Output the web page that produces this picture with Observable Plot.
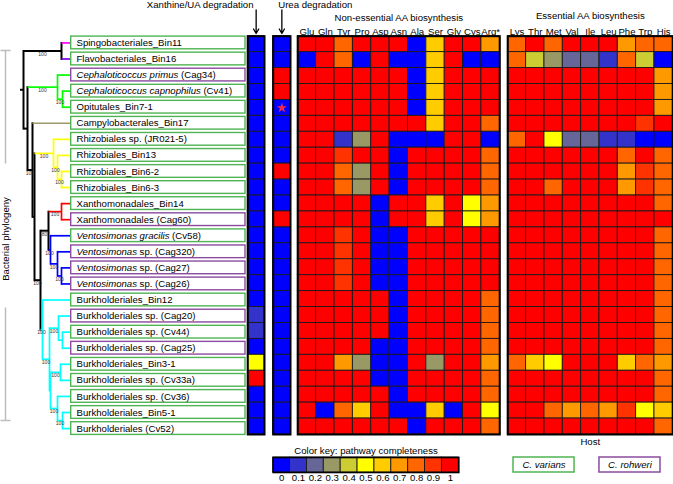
<!DOCTYPE html>
<html><head><meta charset="utf-8">
<script src="https://cdn.jsdelivr.net/npm/d3@7"></script>
<script src="https://cdn.jsdelivr.net/npm/@observablehq/plot@0.6"></script>
<style>
body{margin:0;background:#fff;}
#chart{position:relative;width:673px;height:484px;overflow:hidden;background:#fff;}
#chart svg{position:absolute;left:0;top:0;background:transparent !important;overflow:visible;}
</style></head><body><div id="chart"></div>
<script>
// ---------------- DATA ----------------
const taxa = ["Spingobacteriales_Bin11","Flavobacteriales_Bin16","Cephaloticoccus primus (Cag34)","Cephaloticoccus capnophilus (Cv41)","Opitutales_Bin7-1","Campylobacterales_Bin17","Rhizobiales sp. (JR021-5)","Rhizobiales_Bin13","Rhizobiales_Bin6-2","Rhizobiales_Bin6-3","Xanthomonadales_Bin14","Xanthomonadales (Cag60)","Ventosimonas gracilis (Cv58)","Ventosimonas sp. (Cag320)","Ventosimonas sp. (Cag27)","Ventosimonas sp. (Cag26)","Burkholderiales_Bin12","Burkholderiales sp. (Cag20)","Burkholderiales sp. (Cv44)","Burkholderiales sp. (Cag25)","Burkholderiales_Bin3-1","Burkholderiales sp. (Cv33a)","Burkholderiales sp. (Cv36)","Burkholderiales_Bin5-1","Burkholderiales (Cv52)"];
const italicPart = ["","","Cephaloticoccus primus","Cephaloticoccus capnophilus","","","","","","","","","Ventosimonas gracilis","Ventosimonas","Ventosimonas","Ventosimonas","","","","","","","","",""];
const plainPart = ["Spingobacteriales_Bin11","Flavobacteriales_Bin16","(Cag34)","(Cv41)","Opitutales_Bin7-1","Campylobacterales_Bin17","Rhizobiales sp. (JR021-5)","Rhizobiales_Bin13","Rhizobiales_Bin6-2","Rhizobiales_Bin6-3","Xanthomonadales_Bin14","Xanthomonadales (Cag60)","(Cv58)","sp. (Cag320)","sp. (Cag27)","sp. (Cag26)","Burkholderiales_Bin12","Burkholderiales sp. (Cag20)","Burkholderiales sp. (Cv44)","Burkholderiales sp. (Cag25)","Burkholderiales_Bin3-1","Burkholderiales sp. (Cv33a)","Burkholderiales sp. (Cv36)","Burkholderiales_Bin5-1","Burkholderiales (Cv52)"];
const hostOf = ["C. varians","C. varians","C. rohweri","C. varians","C. varians","C. varians","C. varians","C. varians","C. varians","C. varians","C. varians","C. rohweri","C. varians","C. rohweri","C. rohweri","C. rohweri","C. varians","C. rohweri","C. varians","C. rohweri","C. varians","C. varians","C. varians","C. varians","C. varians"];
const hosts = ["C. varians","C. rohweri"];
const hostColors = ["#4fb453","#8b4b9f"];

const levels = [0,0.1,0.2,0.3,0.4,0.5,0.6,0.7,0.8,0.9,1];
const palette = ["#0000ff","#3333cc","#666699","#999966","#cccc33","#ffff00","#ffcc00","#ff9900","#ff6600","#ff3300","#ff0000"];

const xanthine = [0,0,0,0,0,0,0,0,0,0,0,0,0,0,0,0,0,0.1,0.1,0,0.5,1,0,0,0];
const urea =     [0,0,1,1,0,0,0,0,1,0,0,1,0,0,0,0,0,0,0,0,0,0,0,0,0];
const ureaStarRow = 4;

const nonEssCols = ["Glu","Gln","Tyr","Pro","Asp","Asn","Ala","Ser","Gly","Cys","Arg*"];
const nonEss = [
 [1,1,0.8,1,1,1,0,0.6,1,1,0.7],
 [0,1,0.8,0,1,0,0,0.6,1,0,0],
 [1,1,1,1,1,1,0,0.6,1,1,1],
 [1,1,1,1,1,1,0,0.6,1,1,1],
 [1,1,1,1,1,1,0,0.6,1,1,1],
 [1,1,1,1,1,1,1,0.6,1,1,0.8],
 [1,1,0.1,0.3,1,0,0,0,1,1,0],
 [1,1,0.9,1,1,0,1,1,1,1,0.8],
 [1,1,0.8,0.3,1,0,1,1,1,1,0.8],
 [1,1,0.8,0.3,1,0,1,1,1,1,0.8],
 [1,1,1,1,0,1,1,0.6,1,0.5,0.7],
 [1,1,1,1,0,1,1,0.6,1,0.5,0.7],
 [1,1,0.9,1,0,0,1,1,1,1,1],
 [1,1,0.9,1,0,0,1,1,1,1,1],
 [1,1,0.9,1,0,0,1,1,1,1,1],
 [1,1,0.9,1,0,0,1,1,1,1,1],
 [1,1,1,1,1,0,1,1,1,1,0.8],
 [1,1,1,1,1,0,1,1,1,1,0.8],
 [1,1,1,1,1,0,1,1,1,1,0.8],
 [1,1,1,1,0,0,1,1,1,1,0.8],
 [1,1,0.7,0.3,0,0,1,0.3,1,1,0.7],
 [1,1,1,1,0,0,1,1,1,1,0.8],
 [1,1,1,1,1,0,1,1,1,1,0.8],
 [1,0,0.8,0.6,1,0,0,0.6,0,1,0.5],
 [1,1,1,1,1,1,0,1,1,1,0.8]
];
const essCols = ["Lys","Thr","Met","Val","Ile","Leu","Phe","Trp","His"];
const ess = [
 [0.8,1,0.8,1,1,1,0.7,0.8,0.8],
 [0.8,0.4,0.3,0.2,0.2,0.1,0.8,0.4,0],
 [1,1,1,1,1,1,1,1,0.7],
 [1,1,1,1,1,1,1,1,0.7],
 [1,1,1,1,1,1,1,1,0.7],
 [1,1,1,1,1,1,1,0.9,1],
 [0.8,1,0.5,0.2,0.2,0.1,0.1,0,0],
 [1,1,1,1,1,1,0.8,1,0.8],
 [1,1,1,1,1,1,0.7,0.9,0.8],
 [1,1,0.8,1,1,1,0.7,0.9,0.8],
 [1,1,1,1,1,1,1,1,0.8],
 [1,1,1,1,1,1,1,1,1],
 [1,1,1,1,1,1,1,1,0.8],
 [1,1,1,1,1,1,1,1,0.8],
 [1,1,1,1,1,1,1,1,0.8],
 [1,1,1,1,1,1,1,1,0.8],
 [1,1,1,1,1,1,1,1,0.8],
 [1,1,1,1,1,1,1,1,0.8],
 [1,1,1,1,1,1,1,1,0.8],
 [1,1,1,1,1,1,1,1,0.8],
 [0.8,0.6,0.5,1,1,1,0.6,0.8,0.7],
 [1,1,1,1,1,1,1,1,0.8],
 [1,1,1,1,1,1,1,1,0.8],
 [1,1,0.8,0.7,0.8,0.7,0.9,0.5,0.6],
 [1,1,1,1,1,1,1,1,0.8]
];

// phylogeny: internal nodes [id, parent, depth, colour, support]
const treeNodes = [
 ["root",null,23,"#000000",""],
 ["A","root",61,"#000000","100"],
 ["B","root",27,"#000000",""],
 ["Ceph","B",57,"#00ff00","100"],
 ["Ceph2","Ceph",62,"#00ff00","100"],
 ["D","B",32,"#000000","100"],
 ["E","D",34,"#000000",""],
 ["Rhizo","E",53,"#ffff00","100"],
 ["Rhizo2","Rhizo",57,"#ffff00","100"],
 ["Rhizo3","Rhizo2",61,"#ffff00","100"],
 ["F","E",40,"#000000","100"],
 ["G","F",48,"#000000","80"],
 ["Xan","G",61,"#ff0000","100"],
 ["Vento","G",50,"#0000ff","100"],
 ["Vento2","Vento",57,"#0000ff","100"],
 ["Vento3","Vento2",61,"#0000ff","100"],
 ["Burk","F",42,"#00ffff","100"],
 ["B2","Burk",49,"#00ffff","100"],
 ["B3","B2",58,"#00ffff","100"],
 ["B5","B3",62,"#00ffff",""],
 ["B4","B2",50,"#00ffff",""],
 ["B6","B4",60,"#00ffff","100"],
 ["B7","B4",57,"#00ffff","100"],
 ["B8","B7",62,"#00ffff","100"]
];
const leafParent = ["A","A","Ceph","Ceph2","Ceph2","D","Rhizo","Rhizo2","Rhizo3","Rhizo3","Xan","Xan","Vento","Vento2","Vento3","Vento3","Burk","B3","B5","B5","B6","B6","B7","B8","B8"];
const leafColor = ["#ff00ff","#7a00e6","#00ff00","#00ff00","#00ff00","#9c9c6a","#ffff00","#ffff00","#ffff00","#ffff00","#ff0000","#ff0000","#0000ff","#0000ff","#0000ff","#0000ff","#00ffff","#00ffff","#00ffff","#00ffff","#00ffff","#00ffff","#00ffff","#00ffff","#00ffff"];
const rootStubDepth = 19.5;

// ---------------- LAYOUT ----------------
const W = 673, H = 484;
const FONT = '"Liberation Sans", Arial, Helvetica, sans-serif';
const FS = 9.6;
const heatTop = 35.7, heatBottom = 434;
const panels = {
  xan: [247.3, 264], urea: [272.7, 290], non: [297.3, 499.3], ess: [507.3, 672.3],
  key: [272.7, 458.3, 457, 472], host: [513, 660, 457, 472]
};
const labelBox = {x1: 70.7, x2: 245, textX: 76, half: 0.395, yRange: [34.4, 436.1]};
const leafDepth = 70.7;

const chart = document.getElementById("chart");
const style = {fontFamily: FONT, fontSize: FS + "px", background: "transparent", overflow: "visible"};
const colorScale = {type: "ordinal", domain: levels, range: palette};

function heat(cols, matrix, [l, r], extra = []) {
  const data = [];
  matrix.forEach((row, i) => row.forEach((v, j) => data.push({taxon: taxa[i], col: cols[j], v})));
  return Plot.plot({
    width: W, height: H, style,
    marginLeft: l, marginRight: W - r, marginTop: heatTop, marginBottom: H - heatBottom,
    x: {type: "band", domain: cols, padding: 0, round: false, axis: null},
    y: {type: "band", domain: taxa, padding: 0, round: false, axis: null},
    color: colorScale,
    marks: [
      Plot.cell(data, {x: "col", y: "taxon", fill: "v", stroke: "#1a1a1a", strokeWidth: 0.9}),
      Plot.frame({stroke: "#000", strokeWidth: 2}),
      ...extra
    ]
  });
}
const colLabels = cols => Plot.text(cols, {x: d => d, text: d => d, frameAnchor: "top", dy: -8.3, fontSize: FS});

chart.appendChild(heat(["Xanthine"], xanthine.map(v => [v]), panels.xan));
chart.appendChild(heat(["Urea"], urea.map(v => [v]), panels.urea, [
  Plot.dot([ureaStarRow], {x: () => "Urea", y: i => taxa[i], symbol: "star", r: 3.2, fill: "#f0284a", stroke: "none"})
]));
chart.appendChild(heat(nonEssCols, nonEss, panels.non, [
  colLabels(nonEssCols),
  Plot.text(["Non-essential AA biosynthesis"], {text: d => d, frameAnchor: "top", dy: -22.1, fontSize: FS})
]));
chart.appendChild(heat(essCols, ess, panels.ess, [
  colLabels(essCols),
  Plot.text(["Essential AA biosynthesis"], {text: d => d, frameAnchor: "top", dy: -24.5, fontSize: FS}),
  Plot.text(["Host"], {text: d => d, frameAnchor: "bottom", dy: 10, fontSize: FS})
]));

// Colour key
{
  const [l, r, t, b] = panels.key;
  chart.appendChild(Plot.plot({
    width: W, height: H, style,
    marginLeft: l, marginRight: W - r, marginTop: t, marginBottom: H - b,
    x: {type: "band", domain: levels, padding: 0, round: false, axis: null},
    color: colorScale,
    marks: [
      Plot.cell(levels, {x: d => d, fill: d => d, stroke: "#1a1a1a", strokeWidth: 0.9}),
      Plot.frame({stroke: "#000", strokeWidth: 1.6}),
      Plot.text(levels, {x: d => d, text: d => String(d), frameAnchor: "bottom", dy: 8, fontSize: FS}),
      Plot.text(["Color key: pathway completeness"], {text: d => d, frameAnchor: "top", dy: -10, fontSize: FS})
    ]
  }));
}
// Host legend
{
  const [l, r, t, b] = panels.host;
  chart.appendChild(Plot.plot({
    width: W, height: H, style,
    marginLeft: l, marginRight: W - r, marginTop: t, marginBottom: H - b,
    x: {type: "band", domain: hosts, paddingInner: 0.29, paddingOuter: 0, round: false, axis: null},
    color: {type: "identity"},
    marks: [
      Plot.cell(hosts, {x: d => d, fill: "white", stroke: (d, i) => hostColors[i], strokeWidth: 1.5}),
      Plot.text(hosts, {x: d => d, text: d => d, fontStyle: "italic", fontSize: FS})
    ]
  }));
}

// Tree + labels
{
  const nodes = new Map();
  treeNodes.forEach(([id, parent, depth, color, support]) => nodes.set(id, {id, parent, depth, color, support, children: []}));
  taxa.forEach((t, i) => nodes.set("leaf" + i, {id: "leaf" + i, parent: leafParent[i], depth: leafDepth, color: leafColor[i], support: "", children: [], y: i}));
  for (const n of nodes.values()) if (n.parent) nodes.get(n.parent).children.push(n);
  const setY = n => {
    if (!n.children.length) return n.y;
    const ys = n.children.map(setY);
    n.y0 = Math.min(...ys); n.y1 = Math.max(...ys);
    n.y = (n.y0 + n.y1) / 2;
    return n.y;
  };
  setY(nodes.get("root"));
  const vSegs = [], hSegs = [], boots = [];
  for (const n of nodes.values()) {
    if (n.children.length) vSegs.push({x: n.depth, y1: n.y0, y2: n.y1, color: n.color});
    const pd = n.parent ? nodes.get(n.parent).depth : rootStubDepth;
    hSegs.push({x1: pd, x2: n.depth, y: n.y, color: n.color});
    if (n.support) boots.push({x: (pd + n.depth) / 2, y: n.y + 0.2, text: n.support});
  }
  const lw = d => d.color === "#000000" ? 2 : 1.7;
  const ctx = document.createElement("canvas").getContext("2d");
  ctx.font = `italic ${FS}px ${FONT}`;
  const itW = italicPart.map(s => s ? ctx.measureText(s).width : 0);
  ctx.font = `${FS}px ${FONT}`;
  const sp = ctx.measureText(" ").width;
  const rows = taxa.map((t, i) => ({i, it: italicPart[i], pl: plainPart[i], host: hostOf[i], off: itW[i] ? itW[i] + sp : 0}));
  chart.appendChild(Plot.plot({
    width: W, height: H, style, margin: 0,
    x: {domain: [0, W], range: [0, W], axis: null},
    y: {domain: [-0.5, 24.5], range: labelBox.yRange, axis: null},
    color: {type: "identity"},
    marks: [
      Plot.link(vSegs, {x1: "x", x2: "x", y1: "y1", y2: "y2", stroke: "color", strokeWidth: lw, strokeLinecap: "square"}),
      Plot.link(hSegs, {x1: "x1", x2: "x2", y1: "y", y2: "y", stroke: "color", strokeWidth: lw, strokeLinecap: "butt"}),
      Plot.text(boots, {x: "x", y: "y", text: "text", fontSize: 5, fill: "#333"}),
      Plot.rect(rows, {x1: labelBox.x1, x2: labelBox.x2, y1: d => d.i - labelBox.half, y2: d => d.i + labelBox.half,
        fill: "white", stroke: d => hostColors[hosts.indexOf(d.host)], strokeWidth: 1.4}),
      Plot.text(rows.filter(d => d.it), {x: labelBox.textX, y: "i", text: "it", textAnchor: "start", fontStyle: "italic", fontSize: FS}),
      Plot.text(rows, {x: d => labelBox.textX + d.off, y: "i", text: "pl", textAnchor: "start", fontSize: FS})
    ]
  }));
}

// Annotations (headers, arrows, phylogeny axis)
{
  const xc = p => (p[0] + p[1]) / 2;
  const arrows = [{x: xc(panels.xan), y1: 9.5, y2: 33}, {x: xc(panels.urea), y1: 9.5, y2: 33}];
  const grey = [
    {x1: 5, y1: 50, x2: 5, y2: 163}, {x1: 0, y1: 50, x2: 10, y2: 50},
    {x1: 5, y1: 307, x2: 5, y2: 420}, {x1: 0, y1: 420, x2: 10, y2: 420}
  ];
  chart.appendChild(Plot.plot({
    width: W, height: H, style, margin: 0,
    x: {domain: [0, W], range: [0, W], axis: null},
    y: {domain: [0, H], range: [0, H], axis: null},
    marks: [
      Plot.link(grey, {x1: "x1", y1: "y1", x2: "x2", y2: "y2", stroke: "#bdbdbd", strokeWidth: 1.5}),
      Plot.text(["Bacterial phylogeny"], {x: 5.5, y: 238.5, text: d => d, rotate: -90, fontSize: FS}),
      Plot.text(["Xanthine/UA degradation"], {x: 253, y: 4.6, text: d => d, textAnchor: "end", fontSize: FS}),
      Plot.text(["Urea degradation"], {x: 277.7, y: 4.6, text: d => d, textAnchor: "start", fontSize: FS}),
      Plot.arrow(arrows, {x1: "x", x2: "x", y1: "y1", y2: "y2", stroke: "#000", strokeWidth: 1.3, headLength: 6})
    ]
  }));
}
</script></body></html>
